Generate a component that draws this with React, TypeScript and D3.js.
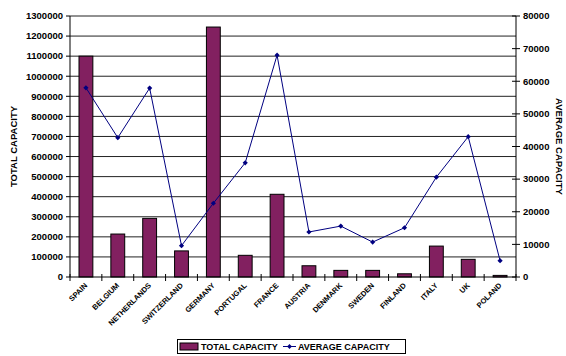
import React from "react";
import * as d3 from "d3";

const countries = [
  "SPAIN", "BELGIUM", "NETHERLANDS", "SWITZERLAND", "GERMANY", "PORTUGAL", "FRANCE",
  "AUSTRIA", "DENMARK", "SWEDEN", "FINLAND", "ITALY", "UK", "POLAND",
];
const totalCapacity = [
  1100000, 214000, 292000, 130000, 1245000, 108000, 412000,
  56000, 33000, 33000, 16000, 154000, 88000, 8000,
];
const averageCapacity = [
  58000, 42700, 57900, 9600, 22600, 35000, 68000,
  13800, 15600, 10700, 15100, 30600, 43000, 5000,
];
const leftTicks = d3.range(0, 1300001, 100000);
const rightTicks = d3.range(0, 80001, 10000);

const W = 566;
const H = 356;
const left = 70;
const right = 516;
const top = 16;
const bottom = 277;
const barColor = "#822060";
const lineColor = "#000080";
const font = "Liberation Sans, Arial, sans-serif";

export default function App() {
  const x = d3.scaleBand<string>().domain(countries).range([left, right]).padding(0);
  const yL = d3.scaleLinear().domain([0, 1300000]).range([bottom, top]);
  const yR = d3.scaleLinear().domain([0, 80000]).range([bottom, top]);
  const bw = x.bandwidth() / 2.3;
  const cx = (c: string) => (x(c) as number) + x.bandwidth() / 2;

  const line = d3
    .line<number>()
    .x((_, i) => cx(countries[i]))
    .y((d) => yR(d));

  const diamond = (px: number, py: number, r = 2.6) =>
    `M${px},${py - r}L${px + r},${py}L${px},${py + r}L${px - r},${py}Z`;

  const boundaries = countries.map((c) => x(c) as number).concat([right]);

  return (
    <svg width={W} height={H} style={{ position: "absolute", left: 0, top: 0, background: "#fff" }}>
      {/* gridlines */}
      {leftTicks.slice(1).map((t) => (
        <line key={"g" + t} x1={left} x2={right} y1={yL(t)} y2={yL(t)} stroke="#222" strokeWidth={1} />
      ))}

      {/* bars */}
      {countries.map((c, i) => (
        <rect
          key={"b" + c}
          x={cx(c) - bw / 2}
          y={yL(totalCapacity[i])}
          width={bw}
          height={bottom - yL(totalCapacity[i])}
          fill={barColor}
          stroke="#000"
          strokeWidth={1}
        />
      ))}

      {/* left axis */}
      <line x1={left} x2={left} y1={top} y2={bottom} stroke="#000" />
      {leftTicks.map((t) => (
        <g key={"l" + t}>
          <line x1={left - 4} x2={left} y1={yL(t)} y2={yL(t)} stroke="#000" />
          <text
            x={left - 7}
            y={yL(t)}
            dy="0.35em"
            textAnchor="end"
            fontFamily={font}
            fontWeight="bold"
            fontSize={9.5}
          >
            {t}
          </text>
        </g>
      ))}

      {/* right axis */}
      <line x1={right} x2={right} y1={top} y2={bottom} stroke="#000" />
      {rightTicks.map((t) => (
        <g key={"r" + t}>
          <line x1={right - 4} x2={right + 4} y1={yR(t)} y2={yR(t)} stroke="#000" />
          <text
            x={right + 7}
            y={yR(t)}
            dy="0.35em"
            textAnchor="start"
            fontFamily={font}
            fontWeight="bold"
            fontSize={9.5}
          >
            {t}
          </text>
        </g>
      ))}

      {/* category axis */}
      <line x1={left} x2={right} y1={bottom} y2={bottom} stroke="#000" />
      {boundaries.map((bx, i) => (
        <line key={"t" + i} x1={bx} x2={bx} y1={bottom - 3} y2={bottom + 4} stroke="#000" />
      ))}
      {countries.map((c) => (
        <text
          key={"c" + c}
          transform={`translate(${cx(c) + 2},${bottom + 9}) rotate(-45)`}
          textAnchor="end"
          fontFamily={font}
          fontWeight="bold"
          fontSize={7.5}
        >
          {c}
        </text>
      ))}

      {/* average line */}
      <path d={line(averageCapacity) || ""} fill="none" stroke={lineColor} strokeWidth={1} />
      {averageCapacity.map((v, i) => (
        <path key={"m" + i} d={diamond(cx(countries[i]), yR(v))} fill={lineColor} />
      ))}

      {/* axis titles */}
      <text
        transform={`translate(17,${(top + bottom) / 2}) rotate(-90)`}
        textAnchor="middle"
        fontFamily={font}
        fontWeight="bold"
        fontSize={9.5}
      >
        TOTAL CAPACITY
      </text>
      <text
        transform={`translate(556,${(top + bottom) / 2}) rotate(90)`}
        textAnchor="middle"
        fontFamily={font}
        fontWeight="bold"
        fontSize={9.5}
      >
        AVERAGE CAPACITY
      </text>

      {/* legend */}
      <rect x={177.5} y={339.5} width={228} height={14} fill="#fff" stroke="#000" />
      <rect x={180} y={343} width={18} height={7} fill={barColor} stroke="#000" />
      <text x={201} y={350} fontFamily={font} fontWeight="bold" fontSize={9}>
        TOTAL CAPACITY
      </text>
      <line x1={283} x2={296} y1={346.5} y2={346.5} stroke={lineColor} />
      <path d={diamond(289.5, 346.5, 2.4)} fill={lineColor} />
      <text x={298} y={350} fontFamily={font} fontWeight="bold" fontSize={9}>
        AVERAGE CAPACITY
      </text>
    </svg>
  );
}
